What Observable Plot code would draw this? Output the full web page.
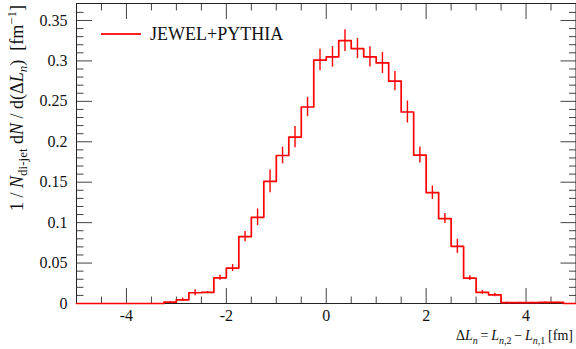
<!DOCTYPE html>
<html><head><meta charset="utf-8">
<script src="https://cdn.jsdelivr.net/npm/d3@7"></script>
<script src="https://cdn.jsdelivr.net/npm/@observablehq/plot@0.6"></script>
<style>
body{margin:0;background:#fff;}
#wrap{position:relative;width:576px;height:349px;}
#legend{position:absolute;left:101px;top:25px;font-family:"Liberation Serif",serif;font-size:18px;line-height:18px;display:flex;align-items:center;color:#111;}
#legend .sw{display:inline-block;width:40px;height:0;border-top:2px solid #ff2020;margin-right:9px;}
</style></head><body><div id="wrap"><div id="legend"><span class="sw"></span><span id="legtext"></span></div></div>
<script>
const seriesName = "JEWEL+PYTHIA";
const binWidth = 0.25;
const binLo = [-5.00,-4.75,-4.50,-4.25,-4.00,-3.75,-3.50,-3.25,-3.00,-2.75,
               -2.50,-2.25,-2.00,-1.75,-1.50,-1.25,-1.00,-0.75,-0.50,-0.25,
                0.00, 0.25, 0.50, 0.75, 1.00, 1.25, 1.50, 1.75, 2.00, 2.25,
                2.50, 2.75, 3.00, 3.25, 3.50, 3.75, 4.00, 4.25, 4.50, 4.75];
const values = [0,0,0,0,0,0,0,0.0017,0.0046,0.0133,
                0.0137,0.0318,0.0438,0.0827,0.1066,0.151,0.183,0.2058,0.243,0.301,
                0.305,0.325,0.3153,0.305,0.2975,0.275,0.2368,0.1835,0.137,0.105,
                0.0707,0.0313,0.0137,0.0106,0.0012,0.001,0.001,0.0015,0.0015,0];
const errors = [0,0,0,0,0,0,0,0.0008,0.0022,0.0037,
                0.0012,0.003,0.0043,0.0062,0.0103,0.014,0.0103,0.0132,0.012,0.0133,
                0.0128,0.0134,0.0124,0.0124,0.013,0.0118,0.0136,0.0099,0.0083,0.0062,
                0.0087,0.003,0.0022,0.0022,0.0005,0.0005,0.0005,0.0005,0.0005,0];
const xMajorTicks = [-4,-2,0,2,4];
const xMinorTicks = [-4.5,-3.5,-3,-2.5,-1.5,-1,-0.5,0.5,1,1.5,2.5,3,3.5,4.5];
const yMajorTicks = [0,0.05,0.1,0.15,0.2,0.25,0.3,0.35];
const yMinorTicks = [0.01,0.02,0.03,0.04,0.06,0.07,0.08,0.09,0.11,0.12,0.13,0.14,
                     0.16,0.17,0.18,0.19,0.21,0.22,0.23,0.24,0.26,0.27,0.28,0.29,
                     0.31,0.32,0.33,0.34,0.36];
const xDomain = [-5,5];
const yDomain = [0,0.371];

const stepData = binLo.map((lo,i)=>({x:lo, y:values[i]}));
stepData.push({x: binLo[binLo.length-1]+binWidth, y: values[values.length-1]});
const errData = binLo.map((lo,i)=>({x: lo+binWidth/2, lo: values[i]-errors[i], hi: values[i]+errors[i]})).filter((d,i)=>errors[i]>0);

const FONT = "Liberation Serif, serif";
const tickColor = "#444";
const chart = Plot.plot({
  width: 576, height: 349,
  marginLeft: 76, marginRight: 0.5, marginTop: 3, marginBottom: 46,
  style: {fontFamily: FONT, fontSize: "16px", color: "#111", background: "#fff"},
  x: {domain: xDomain},
  y: {domain: yDomain},
  marks: [
    Plot.axisX({anchor:"bottom", ticks: xMajorTicks, tickSize: -15, stroke: tickColor, fill:"none", label:null}),
    Plot.axisX({anchor:"bottom", ticks: xMinorTicks, tickSize: -6.5, stroke: tickColor, fill:"none", label:null}),
    Plot.axisX({anchor:"top", ticks: xMajorTicks, tickSize: -15, stroke: tickColor, fill:"none", label:null}),
    Plot.axisX({anchor:"top", ticks: xMinorTicks, tickSize: -6.5, stroke: tickColor, fill:"none", label:null}),
    Plot.axisX({anchor:"bottom", ticks: xMajorTicks, tickSize: 0, tickPadding: 6, tickFormat: d => String(d), label:null}),
    Plot.axisY({anchor:"left", ticks: yMajorTicks, tickSize: -16, stroke: tickColor, fill:"none", label:null}),
    Plot.axisY({anchor:"left", ticks: yMinorTicks, tickSize: -7.5, stroke: tickColor, fill:"none", label:null}),
    Plot.axisY({anchor:"right", ticks: yMajorTicks, tickSize: -16, stroke: tickColor, fill:"none", label:null}),
    Plot.axisY({anchor:"right", ticks: yMinorTicks, tickSize: -7.5, stroke: tickColor, fill:"none", label:null}),
    Plot.axisY({anchor:"left", ticks: yMajorTicks, tickSize: 0, tickPadding: 9, tickFormat: d => String(d), label:null}),
    Plot.frame({stroke: "#222"}),
    Plot.line(stepData, {x:"x", y:"y", curve:"step-after", stroke:"#ff0000", strokeWidth:1.7}),
    Plot.ruleX(errData, {x:"x", y1:"lo", y2:"hi", stroke:"#ff0000", strokeWidth:1.4})
  ]
});
document.getElementById("wrap").prepend(chart);
document.getElementById("legtext").textContent = seriesName;

const svg = d3.select(chart);
// y-axis label
const yl = svg.append("text")
  .attr("transform","translate(23,5) rotate(-90)")
  .attr("text-anchor","end")
  .attr("font-family", FONT).attr("font-size", 18).attr("fill","#111");
yl.append("tspan").text("1 / ");
yl.append("tspan").attr("font-style","italic").text("N");
yl.append("tspan").attr("dy",4).attr("font-size",13).text("di-jet");
yl.append("tspan").attr("dy",-4).text(" d");
yl.append("tspan").attr("font-style","italic").text("N");
yl.append("tspan").text(" / d(\u0394");
yl.append("tspan").attr("font-style","italic").text("L");
yl.append("tspan").attr("dy",4).attr("font-size",13).attr("font-style","italic").text("n");
yl.append("tspan").attr("dy",-4).text(")\u2002[fm");
yl.append("tspan").attr("dy",-7).attr("font-size",13).text("\u22121");
yl.append("tspan").attr("dy",7).text("]");

// x-axis label
const xl = svg.append("text")
  .attr("x", 573).attr("y", 340)
  .attr("text-anchor","end")
  .attr("font-family", FONT).attr("font-size", 14).attr("fill","#111");
xl.append("tspan").text("\u0394");
xl.append("tspan").attr("font-style","italic").text("L");
xl.append("tspan").attr("dy",3.5).attr("font-size",10).attr("font-style","italic").text("n");
xl.append("tspan").attr("dy",-3.5).text("\u2009=\u2009");
xl.append("tspan").attr("font-style","italic").text("L");
xl.append("tspan").attr("dy",3.5).attr("font-size",10).attr("font-style","italic").text("n");
xl.append("tspan").attr("font-size",10).text(",2");
xl.append("tspan").attr("dy",-3.5).text("\u2009\u2212\u2009");
xl.append("tspan").attr("font-style","italic").text("L");
xl.append("tspan").attr("dy",3.5).attr("font-size",10).attr("font-style","italic").text("n");
xl.append("tspan").attr("font-size",10).text(",1");
xl.append("tspan").attr("dy",-3.5).text("\u2009[fm]");
</script></body></html>
